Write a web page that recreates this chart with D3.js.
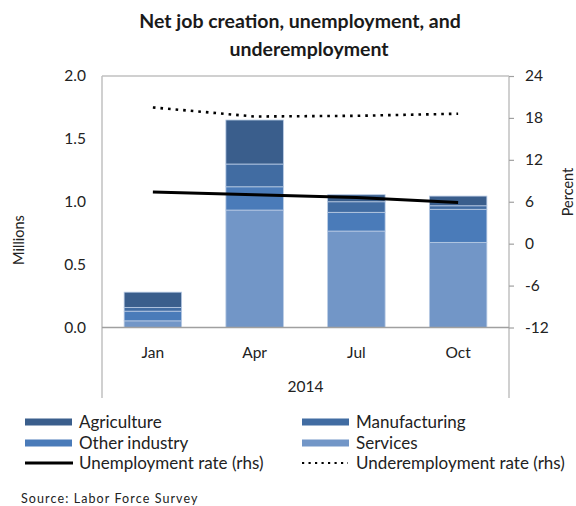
<!DOCTYPE html>
<html>
<head>
<meta charset="utf-8">
<script src="https://cdn.jsdelivr.net/npm/d3@7"></script>
<style>
  html, body { margin: 0; padding: 0; background: #fff; }
  svg { display: block; font-family: Lato, "Open Sans", sans-serif; }
</style>
</head>
<body>
<svg id="chart" width="576" height="506"></svg>
<script>
// Quarterly months shown on the category axis
const months = ["Jan", "Apr", "Jul", "Oct"];
const yearLabel = "2014";

// Net job creation by sector, millions (stacked bottom to top)
const services = [0.053, 0.934, 0.767, 0.677];
const otherIndustry = [0.077, 0.185, 0.149, 0.263];
const manufacturing = [0.030, 0.181, 0.084, 0.028];
const agriculture = [0.121, 0.350, 0.056, 0.077];

// Rates on the right-hand axis, percent
const unemploymentRate = [7.4, 7.0, 6.6, 5.9];
const underemploymentRate = [19.5, 18.2, 18.3, 18.6];

// Axis ticks
const leftTicks = [0, 0.5, 1.0, 1.5, 2.0];
const rightTicks = [-12, -6, 0, 6, 12, 18, 24];

const sectorKeys = ["services", "otherIndustry", "manufacturing", "agriculture"];
const sectorColors = {
  agriculture: "#3a5e8c",
  manufacturing: "#416ca2",
  otherIndustry: "#4a7bb9",
  services: "#7296c7"
};

const rows = months.map((m, i) => ({
  month: m,
  services: services[i],
  otherIndustry: otherIndustry[i],
  manufacturing: manufacturing[i],
  agriculture: agriculture[i],
  unemployment: unemploymentRate[i],
  underemployment: underemploymentRate[i]
}));

const svg = d3.select("#chart");
const plot = { left: 102, right: 509, top: 76, bottom: 327.5 };

const x = d3.scaleBand()
  .domain(months)
  .range([plot.left, plot.right])
  .paddingInner(0.435)
  .paddingOuter(0.2175);
const xc = m => x(m) + x.bandwidth() / 2;

const yL = d3.scaleLinear().domain([0, 2]).range([plot.bottom, plot.top]);
const yR = d3.scaleLinear().domain([-12, 24]).range([plot.bottom, plot.top]);

// Title
const title = svg.append("g")
  .attr("font-weight", "bold")
  .attr("font-size", 19.5)
  .attr("fill", "#1a1a1a")
  .attr("text-anchor", "middle");
title.append("text").attr("x", 300).attr("y", 28).text("Net job creation, unemployment, and");
title.append("text").attr("x", 309).attr("y", 56).text("underemployment");

// Stacked bars
const stacked = d3.stack().keys(sectorKeys)(rows);
svg.append("g")
  .selectAll("g")
  .data(stacked)
  .join("g")
  .attr("fill", d => sectorColors[d.key])
  .selectAll("rect")
  .data(d => d)
  .join("rect")
  .attr("x", d => x(d.data.month))
  .attr("width", x.bandwidth())
  .attr("y", d => yL(d[1]))
  .attr("height", d => yL(d[0]) - yL(d[1]))
  .attr("stroke", "#b9cbe4")
  .attr("stroke-width", 0.8);

// Plot frame and category group lines
const frame = svg.append("g").attr("stroke", "#c0c0c0").attr("stroke-width", 1.5).attr("fill", "none");
frame.append("line").attr("x1", plot.left).attr("x2", plot.right).attr("y1", plot.top).attr("y2", plot.top);
frame.append("line").attr("x1", plot.left).attr("x2", plot.left).attr("y1", plot.top).attr("y2", 398);
frame.append("line").attr("x1", plot.right).attr("x2", plot.right).attr("y1", plot.top).attr("y2", 398);
svg.append("line")
  .attr("x1", plot.left).attr("x2", plot.right)
  .attr("y1", plot.bottom).attr("y2", plot.bottom)
  .attr("stroke", "#a0a0a0").attr("stroke-width", 1.5);

// Left axis (millions)
const leftAxis = svg.append("g")
  .attr("transform", `translate(${plot.left},0)`)
  .call(d3.axisLeft(yL).tickValues(leftTicks).tickSize(0).tickPadding(16).tickFormat(d3.format(".1f")));
leftAxis.select(".domain").remove();
leftAxis.selectAll("text").attr("font-size", 15.5).attr("fill", "#222").attr("font-family", "Lato, sans-serif");

// Right axis (percent)
const rightAxis = svg.append("g")
  .attr("transform", `translate(${plot.right},0)`)
  .call(d3.axisRight(yR).tickValues(rightTicks).tickSize(5).tickPadding(11).tickFormat(d => String(d)));
rightAxis.select(".domain").remove();
rightAxis.selectAll("line").attr("stroke", "#a0a0a0").attr("stroke-width", 1.2);
rightAxis.selectAll("text").attr("font-size", 15.5).attr("fill", "#222").attr("font-family", "Lato, sans-serif");

// Axis titles
svg.append("text")
  .attr("transform", "translate(24,240) rotate(-90)")
  .attr("text-anchor", "middle")
  .attr("font-size", 14.5).attr("fill", "#222")
  .text("Millions");
svg.append("text")
  .attr("transform", "translate(573,192) rotate(-90)")
  .attr("text-anchor", "middle")
  .attr("font-size", 14.5).attr("fill", "#222")
  .text("Percent");

// Category labels
svg.append("g")
  .selectAll("text")
  .data(months)
  .join("text")
  .attr("x", d => xc(d))
  .attr("y", 358)
  .attr("text-anchor", "middle")
  .attr("font-size", 15.5).attr("fill", "#222")
  .text(d => d);
svg.append("text")
  .attr("x", (plot.left + plot.right) / 2)
  .attr("y", 392)
  .attr("text-anchor", "middle")
  .attr("font-size", 15.5).attr("fill", "#222")
  .text(yearLabel);

// Rate lines
const line = key => d3.line().x(d => xc(d.month)).y(d => yR(d[key]));
svg.append("path")
  .datum(rows)
  .attr("d", line("unemployment"))
  .attr("fill", "none")
  .attr("stroke", "#000")
  .attr("stroke-width", 3);
svg.append("path")
  .datum(rows)
  .attr("d", line("underemployment"))
  .attr("fill", "none")
  .attr("stroke", "#000")
  .attr("stroke-width", 2.6)
  .attr("stroke-dasharray", "2.6 5");

// Legend
const legendItems = [
  { label: "Agriculture", type: "bar", key: "agriculture", col: 0, row: 0 },
  { label: "Manufacturing", type: "bar", key: "manufacturing", col: 1, row: 0 },
  { label: "Other industry", type: "bar", key: "otherIndustry", col: 0, row: 1 },
  { label: "Services", type: "bar", key: "services", col: 1, row: 1 },
  { label: "Unemployment rate (rhs)", type: "solid", col: 0, row: 2 },
  { label: "Underemployment rate (rhs)", type: "dotted", col: 1, row: 2 }
];
const colX = [25, 302];
const rowY = [422, 443, 463];
const legend = svg.append("g");
const li = legend.selectAll("g")
  .data(legendItems)
  .join("g")
  .attr("transform", d => `translate(${colX[d.col]},${rowY[d.row]})`);
li.filter(d => d.type === "bar").append("rect")
  .attr("x", 0).attr("y", -3.5).attr("width", 47).attr("height", 7)
  .attr("fill", d => sectorColors[d.key]);
li.filter(d => d.type === "solid").append("line")
  .attr("x1", 0).attr("x2", 48).attr("y1", 0).attr("y2", 0)
  .attr("stroke", "#000").attr("stroke-width", 3);
li.filter(d => d.type === "dotted").append("line")
  .attr("x1", 0).attr("x2", 46).attr("y1", 0).attr("y2", 0)
  .attr("stroke", "#000").attr("stroke-width", 2.2)
  .attr("stroke-dasharray", "2.2 4.3");
li.append("text")
  .attr("x", 54).attr("y", 6)
  .attr("font-size", 17).attr("fill", "#222")
  .text(d => d.label);

// Source note
svg.append("text")
  .attr("x", 21).attr("y", 503)
  .attr("font-size", 12.5).attr("fill", "#222")
  .attr("letter-spacing", 1.1)
  .text("Source: Labor Force Survey");
</script>
</body>
</html>
